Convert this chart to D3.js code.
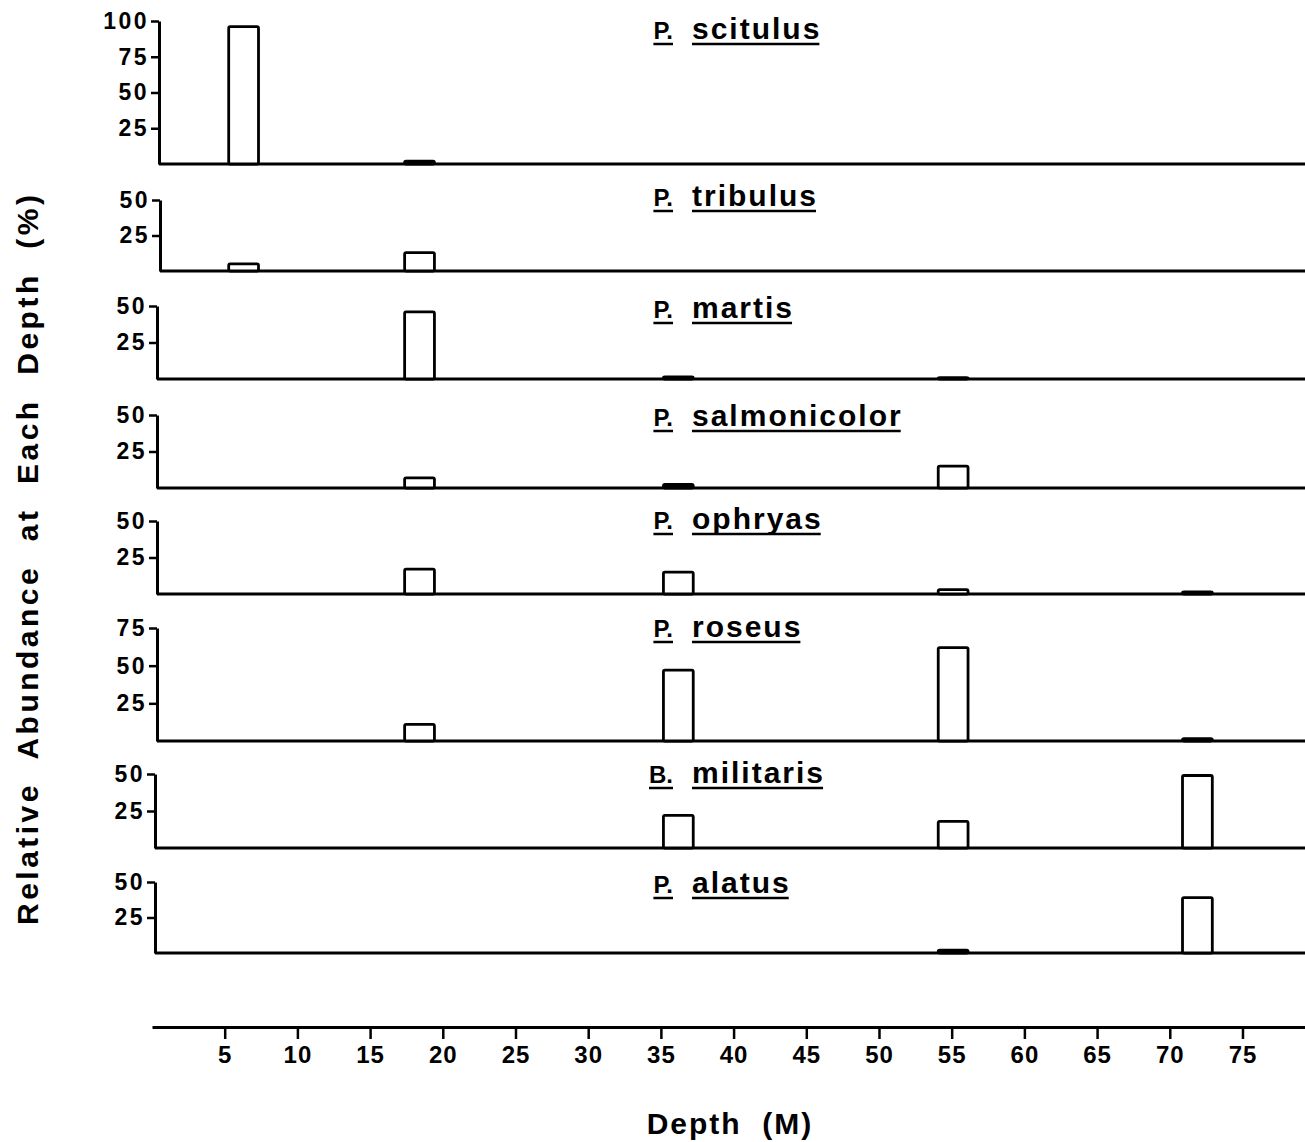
<!DOCTYPE html>
<html>
<head>
<meta charset="utf-8">
<script src="https://cdn.jsdelivr.net/npm/d3@7"></script>
<style>
  html, body { margin: 0; padding: 0; background: #fff; }
  svg { display: block; }
  text { font-family: "Liberation Sans", Arial, sans-serif; font-weight: bold; fill: #000; }
</style>
</head>
<body>
<svg id="chart" width="1305" height="1142"></svg>
<script>
// ---- data ----------------------------------------------------------------
// sampling depths (m) at which each species' relative abundance was recorded
const depths = [6.3, 18.4, 36.2, 55.1, 71.9];

const genusLabels = ["P.", "P.", "P.", "P.", "P.", "P.", "B.", "P."];
const speciesNames = ["scitulus", "tribulus", "martis", "salmonicolor", "ophryas", "roseus", "militaris", "alatus"];

// relative abundance (%) at each depth, one array per species (0 = absent)
const scitulus     = [96, 2, 0, 0, 0];
const tribulus     = [5, 13, 0, 0, 0];
const martis       = [0, 46, 1.5, 1, 0];
const salmonicolor = [0, 7, 2.5, 15, 0];
const ophryas      = [0, 17, 15, 3, 1.5];
const roseus       = [0, 11, 47, 62, 1.5];
const militaris    = [0, 0, 22, 18, 49];
const alatus       = [0, 0, 0, 2, 39];
const abundance = [scitulus, tribulus, martis, salmonicolor, ophryas, roseus, militaris, alatus];

// top of each panel's y axis (%)
const yMax = [100, 50, 50, 50, 50, 75, 50, 50];
const xTickValues = [5, 10, 15, 20, 25, 30, 35, 40, 45, 50, 55, 60, 65, 70, 75];

// ---- layout --------------------------------------------------------------
const W = 1305;
const panelTop  = [21, 200, 306, 415, 521, 628, 774, 882];
const panelBase = [164, 271, 379, 488, 594, 741, 848, 953];
const panelAxisX = [159, 160, 157, 157, 157, 157, 155, 155];
const titleBase = [39, 206, 318, 426, 529, 637, 783, 893];
const barWidthM = 2.05;
const axisY = 1027;

const svg = d3.select("#chart");

// shared depth scale
const x = d3.scaleLinear().domain([0, 79.3]).range([152, 1305]);

abundance.forEach((vals, i) => {
  const y = d3.scaleLinear().domain([0, yMax[i]]).range([panelBase[i], panelTop[i]]);
  const g = svg.append("g").attr("class", "panel");
  const ax = panelAxisX[i];

  // baseline running across the panel
  g.append("line")
    .attr("x1", ax).attr("x2", W)
    .attr("y1", panelBase[i]).attr("y2", panelBase[i])
    .attr("stroke", "#000").attr("stroke-width", 3);

  // left axis
  const ticks = d3.range(25, yMax[i] + 1, 25);
  const yAxis = d3.axisLeft(y).tickValues(ticks).tickSize(8).tickSizeOuter(0).tickPadding(2)
    .tickFormat(d3.format("d"));
  const ga = g.append("g").attr("transform", `translate(${ax},0)`).call(yAxis);
  ga.select(".domain").attr("stroke", "#000").attr("stroke-width", 3);
  ga.selectAll(".tick line").attr("stroke", "#000").attr("stroke-width", 2.5);
  ga.selectAll(".tick text")
    .style("font-size", "23px").style("letter-spacing", "2.5px")
    .attr("fill", "#000");

  // bars
  const data = depths.map((d, j) => ({ depth: d, value: vals[j] })).filter(d => d.value > 0);
  g.selectAll("rect.bar").data(data).enter().append("rect")
    .attr("class", "bar")
    .attr("x", d => x(d.depth - barWidthM / 2))
    .attr("width", d => x(d.depth + barWidthM / 2) - x(d.depth - barWidthM / 2))
    .attr("y", d => y(d.value))
    .attr("height", d => panelBase[i] - y(d.value))
    .attr("fill", d => (panelBase[i] - y(d.value)) < 4 ? "#000" : "#fff")
    .attr("stroke", "#000").attr("stroke-width", 2.8)
    .attr("rx", 1.5);

  // title: genus initial and species name, each underlined
  const tg = g.append("g");
  const gen = tg.append("text")
    .attr("x", 673).attr("y", titleBase[i])
    .attr("text-anchor", "end")
    .style("font-size", "24px").style("letter-spacing", "0px")
    .text(genusLabels[i]);
  const sp = tg.append("text")
    .attr("x", 692).attr("y", titleBase[i])
    .style("font-size", "30px").style("letter-spacing", "2px")
    .text(speciesNames[i]);
  [gen, sp].forEach(t => {
    const b = t.node().getBBox();
    tg.append("line")
      .attr("x1", b.x).attr("x2", b.x + b.width - (t === sp ? 2 : 0))
      .attr("y1", titleBase[i] + 5).attr("y2", titleBase[i] + 5)
      .attr("stroke", "#000").attr("stroke-width", 2.5);
  });
});

// bottom depth axis
const xAxis = d3.axisBottom(x).tickValues(xTickValues).tickSize(12).tickSizeOuter(0).tickPadding(7)
  .tickFormat(d3.format("d"));
const gx = svg.append("g").attr("transform", `translate(0,${axisY})`).call(xAxis);
gx.select(".domain").attr("stroke", "#000").attr("stroke-width", 3);
gx.selectAll(".tick line").attr("stroke", "#000").attr("stroke-width", 2.5);
gx.selectAll(".tick text").style("font-size", "24px").style("letter-spacing", "1px").attr("fill", "#000");

// axis titles
svg.append("text")
  .attr("x", 730).attr("y", 1134)
  .attr("text-anchor", "middle")
  .style("font-size", "30px").style("letter-spacing", "2px")
  .attr("xml:space", "preserve")
  .text("Depth  (M)");

svg.append("text")
  .attr("transform", "translate(38,560) rotate(-90)")
  .attr("text-anchor", "middle")
  .attr("textLength", 730).attr("lengthAdjust", "spacing")
  .style("font-size", "30px")
  .attr("xml:space", "preserve")
  .text("Relative  Abundance  at  Each  Depth  (%)");
</script>
</body>
</html>
